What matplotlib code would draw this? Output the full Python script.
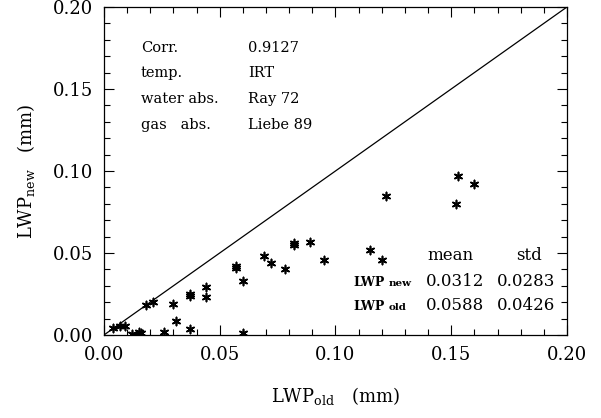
import matplotlib
matplotlib.use("Agg")
import matplotlib.pyplot as plt
from matplotlib.ticker import MultipleLocator

plt.rcParams['font.family'] = ['DejaVu Serif']
plt.rcParams['mathtext.fontset'] = 'dejavuserif'

lwp_old = [0.004, 0.007, 0.009, 0.012, 0.015, 0.016, 0.018, 0.021, 0.026, 0.030,
           0.031, 0.037, 0.037, 0.037, 0.044, 0.044, 0.057, 0.057, 0.060, 0.060,
           0.069, 0.072, 0.078, 0.082, 0.082, 0.089, 0.095, 0.115, 0.120, 0.122,
           0.152, 0.153, 0.160]
lwp_new = [0.004, 0.0055, 0.0055, 0.0006, 0.002, 0.0015, 0.018, 0.020, 0.002, 0.019,
           0.0085, 0.024, 0.025, 0.0037, 0.029, 0.023, 0.042, 0.041, 0.033, 0.001,
           0.048, 0.044, 0.040, 0.055, 0.056, 0.057, 0.046, 0.052, 0.046, 0.085,
           0.080, 0.097, 0.092]

info_keys = ["Corr.", "temp.", "water abs.", "gas   abs."]
info_vals = ["0.9127", "IRT", "Ray 72", "Liebe 89"]
stat_cols = ["mean", "std"]
stat_rows = ["new", "old"]
stat_mean = ["0.0312", "0.0588"]
stat_std = ["0.0283", "0.0426"]

fig = plt.figure(figsize=(6.01, 4.18), dpi=100)
ax = fig.add_axes([0.173, 0.1986, 0.7704, 0.7847])
ax.set_xlim(0, 0.2)
ax.set_ylim(0, 0.2)
ax.plot([0, 0.2], [0, 0.2], color='black', lw=0.9)
ax.scatter(lwp_old, lwp_new, marker=(6, 2, 0), s=34, color='black', linewidths=1.2)

ax.xaxis.set_major_locator(MultipleLocator(0.05))
ax.yaxis.set_major_locator(MultipleLocator(0.05))
ax.xaxis.set_minor_locator(MultipleLocator(0.01))
ax.yaxis.set_minor_locator(MultipleLocator(0.01))
ax.tick_params(which='both', direction='in', top=True, right=True, width=0.8)
ax.tick_params(which='major', length=7, labelsize=13, pad=8)
ax.tick_params(which='minor', length=4)
ax.xaxis.set_major_formatter(plt.FormatStrFormatter('%.2f'))
ax.yaxis.set_major_formatter(plt.FormatStrFormatter('%.2f'))
for s in ax.spines.values():
    s.set_linewidth(0.9)

ax.set_xlabel(r"LWP$_{\mathrm{old}}$   (mm)", fontsize=13, labelpad=15)
ax.set_ylabel(r"LWP$_{\mathrm{new}}$   (mm)", fontsize=13, labelpad=11)

ys = [48, 73, 99, 125]
for k, v, yp in zip(info_keys, info_vals, ys):
    fig.text(141/601, 1 - yp/418, k, fontsize=10.5, va='center', ha='left')
    fig.text(248/601, 1 - yp/418, v, fontsize=10.5, va='center', ha='left')

fig.text(427/601, 1 - 256/418, stat_cols[0], fontsize=12, va='center', ha='left')
fig.text(516/601, 1 - 256/418, stat_cols[1], fontsize=12, va='center', ha='left')
for r, m, s, yp in zip(stat_rows, stat_mean, stat_std, [282, 306]):
    fig.text(353/601, 1 - yp/418, "LWP", fontsize=9, fontweight='bold', va='center', ha='left')
    fig.text(389/601, 1 - (yp + 1)/418, r, fontsize=7.5, fontweight='bold', va='center', ha='left')
    fig.text(426/601, 1 - yp/418, m, fontsize=12, va='center', ha='left')
    fig.text(497/601, 1 - yp/418, s, fontsize=12, va='center', ha='left')

fig.savefig("out.png", dpi=100)
